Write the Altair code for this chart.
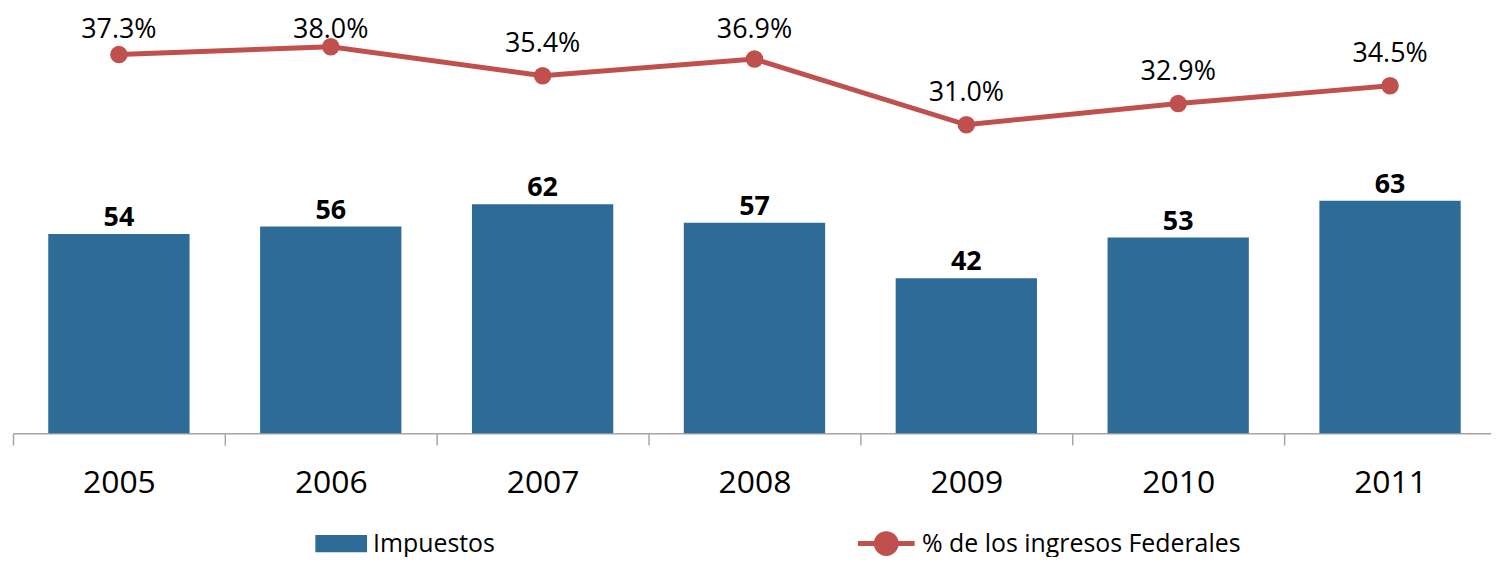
import altair as alt
import pandas as pd

years = ["2005", "2006", "2007", "2008", "2009", "2010", "2011"]
impuestos = [54, 56, 62, 57, 42, 53, 63]
pct_ingresos = [37.3, 38.0, 35.4, 36.9, 31.0, 32.9, 34.5]

BAR_NAME = "Impuestos"
LINE_NAME = "% de los ingresos Federales"

df = pd.DataFrame({"year": years, "imp": impuestos, "pct": pct_ingresos})
df["bar_serie"] = BAR_NAME
df["line_serie"] = LINE_NAME

FONT = "Open Sans"
BLUE = "#2E6B96"
RED = "#C0504D"
GRAY = "#A6A6A6"

x = alt.X(
    "year:N", sort=years, title=None,
    scale=alt.Scale(paddingInner=0, paddingOuter=0, round=False),
    axis=alt.Axis(labelFont=FONT, labelFontSize=32, labelColor="black", labelAngle=0,
                  labelBaseline="alphabetic", labelPadding=48, tickSize=12,
                  tickBand="extent", tickColor=GRAY, domainColor=GRAY,
                  tickWidth=1.5, domainWidth=1.5, grid=False),
)

bar_scale = alt.Scale(domain=[0, 114.8], nice=False, zero=True)
line_scale = alt.Scale(domain=[3.31, 41.35], nice=False, zero=False)

base = alt.Chart(df)

bars = base.mark_bar(width=alt.RelativeBandSize(0.667)).encode(
    x=x,
    y=alt.Y("imp:Q", scale=bar_scale, axis=None),
    fill=alt.Fill("bar_serie:N", scale=alt.Scale(domain=[BAR_NAME], range=[BLUE]),
                  legend=alt.Legend(title=None, orient="none", legendX=304, legendY=511,
                                    padding=0,
                                    symbolType="M-1,-0.33H1V0.33H-1Z", symbolSize=2704,
                                    symbolStrokeWidth=0, symbolOpacity=1,
                                    labelFont=FONT, labelFontSize=25, labelColor="black",
                                    labelOffset=6, labelLimit=0)),
)

bar_labels = base.mark_text(dy=-8, baseline="alphabetic", font=FONT, fontSize=27,
                            fontWeight="bold", color="black").encode(
    x=x,
    y=alt.Y("imp:Q", scale=bar_scale, axis=None),
    text=alt.Text("imp:Q"),
)

line = base.mark_line(strokeWidth=5).encode(
    x=x,
    y=alt.Y("pct:Q", scale=line_scale, axis=None),
    stroke=alt.Stroke("line_serie:N", scale=alt.Scale(domain=[LINE_NAME], range=[RED]),
                      legend=alt.Legend(title=None, orient="none", legendX=847, legendY=506,
                                        padding=0,
                                        symbolType="M-1,0H1M-0.35,0A0.35,0.35 0 1,0 0.35,0A0.35,0.35 0 1,0 -0.35,0Z",
                                        symbolSize=3249, symbolStrokeWidth=5,
                                        symbolFillColor=RED, symbolOpacity=1,
                                        labelFont=FONT, labelFontSize=25, labelColor="black",
                                        labelOffset=5, labelLimit=0)),
)

points = base.mark_circle(size=310, opacity=1, color=RED).encode(
    x=x,
    y=alt.Y("pct:Q", scale=line_scale, axis=None),
)

pct_labels = base.transform_calculate(
    lv="min(datum.pct + 2.1, 38.8)",
    label="format(datum.pct, '.1f') + '%'",
).mark_text(baseline="alphabetic", font=FONT, fontSize=27, color="black").encode(
    x=x,
    y=alt.Y("lv:Q", scale=line_scale, axis=None),
    text="label:N",
)

chart = alt.layer(bars, bar_labels, line, points, pct_labels).resolve_scale(
    y="independent"
).properties(
    width=1491, height=426,
    autosize=alt.AutoSizeParams(type="none"),
    padding={"left": 5, "top": 0, "right": -5, "bottom": 123},
).configure_view(stroke=None)

chart.save("out.html", embed_options={"renderer": "svg", "actions": False})
